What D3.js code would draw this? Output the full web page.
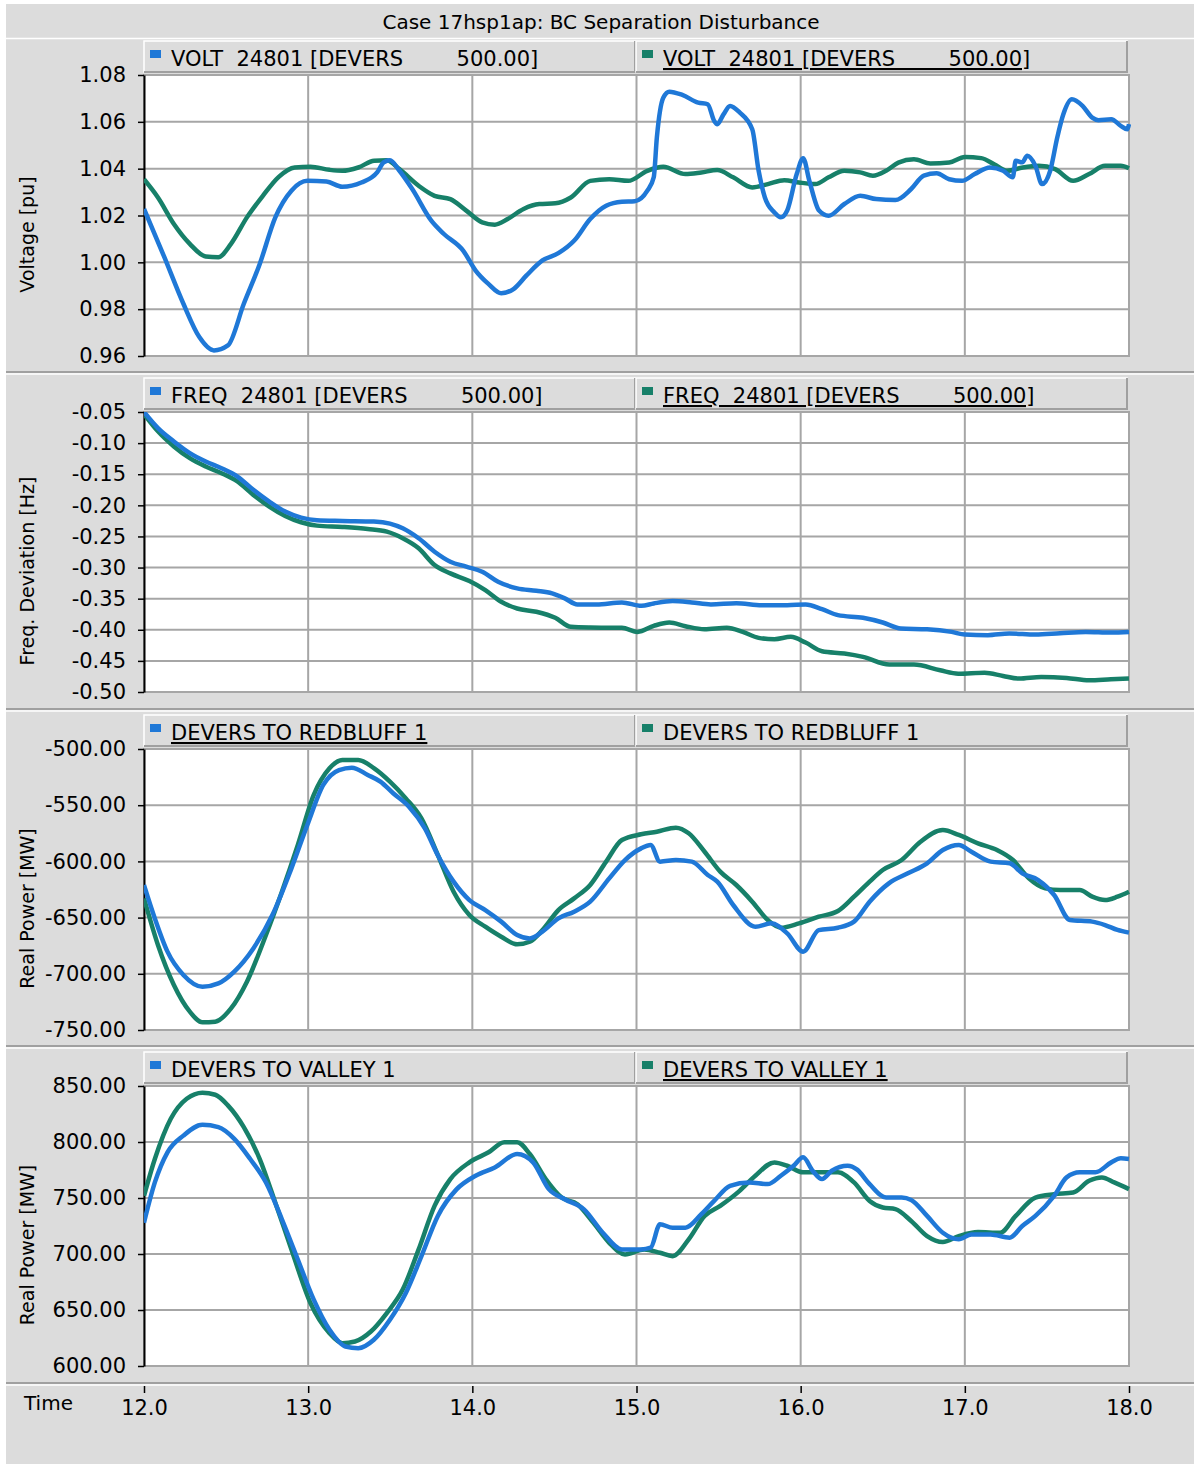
<!DOCTYPE html>
<html>
<head>
<meta charset="utf-8">
<script src="https://cdn.jsdelivr.net/npm/d3@7"></script>
<style>
body { margin: 0; background: #fff; }
text { font-family: "DejaVu Sans", Verdana, sans-serif; white-space: pre; fill: #000; }
</style>
</head>
<body>
<div id="chart"></div>
<script>
// ---- data ----
var timeTicks = [12, 13, 14, 15, 16, 17, 18];
var voltTicks = [0.96, 0.98, 1.00, 1.02, 1.04, 1.06, 1.08];
var freqTicks = [-0.50, -0.45, -0.40, -0.35, -0.30, -0.25, -0.20, -0.15, -0.10, -0.05];
var redbluffTicks = [-750, -700, -650, -600, -550, -500];
var valleyTicks = [600, 650, 700, 750, 800, 850];

var voltBlue = [[12.0,1.0228],[12.124,1.0022],[12.24,0.9823],[12.337,0.9681],[12.426,0.9624],[12.511,0.9645],[12.608,0.9823],[12.705,0.9993],[12.80,1.0192],[12.898,1.0306],[12.995,1.0348],[13.111,1.0345],[13.208,1.0323],[13.324,1.0341],[13.42,1.0384],[13.46,1.0427],[13.498,1.0436],[13.556,1.0391],[13.634,1.0313],[13.75,1.0178],[13.827,1.0121],[13.944,1.005],[14.02,0.9965],[14.098,0.9908],[14.176,0.9868],[14.253,0.9887],[14.33,0.9944],[14.427,1.0008],[14.524,1.0039],[14.621,1.0093],[14.718,1.0185],[14.815,1.0242],[14.911,1.0259],[14.989,1.0261],[15.066,1.0306],[15.105,1.0363],[15.124,1.0533],[15.163,1.0703],[15.20,1.0729],[15.279,1.0715],[15.376,1.0682],[15.434,1.0675],[15.473,1.0604],[15.492,1.059],[15.53,1.0632],[15.57,1.0668],[15.628,1.064],[15.705,1.0568],[15.744,1.0391],[15.782,1.0277],[15.84,1.0213],[15.879,1.0192],[15.918,1.0221],[15.976,1.0377],[16.015,1.0445],[16.053,1.0348],[16.112,1.0221],[16.17,1.0199],[16.266,1.0249],[16.363,1.0284],[16.46,1.027],[16.577,1.0266],[16.673,1.0313],[16.75,1.037],[16.828,1.038],[16.905,1.0355],[16.983,1.0348],[17.06,1.0377],[17.153,1.0405],[17.234,1.0391],[17.292,1.0363],[17.31,1.0434],[17.35,1.0427],[17.38,1.0455],[17.43,1.0412],[17.47,1.0334],[17.52,1.0391],[17.563,1.0533],[17.60,1.0632],[17.652,1.0696],[17.717,1.0668],[17.776,1.0618],[17.814,1.0607],[17.892,1.0611],[17.95,1.0583],[17.99,1.0568],[18.0,1.059]];
var voltGreen = [[12.0,1.0355],[12.085,1.0277],[12.182,1.0164],[12.279,1.0079],[12.376,1.0025],[12.453,1.0022],[12.53,1.0079],[12.627,1.0192],[12.724,1.0284],[12.821,1.0365],[12.918,1.0405],[13.014,1.0408],[13.13,1.0395],[13.208,1.0391],[13.305,1.0405],[13.402,1.0434],[13.479,1.0436],[13.556,1.0398],[13.673,1.0327],[13.77,1.0284],[13.866,1.027],[13.963,1.0221],[14.06,1.0171],[14.137,1.0161],[14.215,1.0185],[14.312,1.0228],[14.408,1.0249],[14.505,1.0252],[14.60,1.0277],[14.718,1.0348],[14.834,1.0355],[14.95,1.0348],[15.066,1.0391],[15.163,1.0408],[15.298,1.0377],[15.395,1.0384],[15.492,1.0394],[15.589,1.0363],[15.705,1.032],[15.80,1.0334],[15.90,1.0351],[15.99,1.0341],[16.09,1.0334],[16.17,1.0363],[16.266,1.0391],[16.363,1.0384],[16.44,1.037],[16.52,1.0391],[16.595,1.0426],[16.69,1.044],[16.79,1.0422],[16.905,1.0426],[17.0,1.045],[17.10,1.0445],[17.178,1.0419],[17.256,1.0391],[17.353,1.0405],[17.45,1.0412],[17.55,1.0398],[17.66,1.0348],[17.757,1.0377],[17.854,1.0412],[17.95,1.0412],[18.0,1.0402]];

var freqBlue = [[12.0,-0.05],[12.085,-0.0758],[12.182,-0.0973],[12.279,-0.116],[12.376,-0.1295],[12.472,-0.1403],[12.569,-0.1537],[12.666,-0.1751],[12.763,-0.1939],[12.86,-0.21],[12.957,-0.2197],[13.053,-0.224],[13.208,-0.2251],[13.40,-0.2261],[13.498,-0.2293],[13.576,-0.2369],[13.673,-0.253],[13.77,-0.2745],[13.866,-0.2906],[13.963,-0.2986],[14.06,-0.3067],[14.157,-0.3228],[14.273,-0.3335],[14.39,-0.3373],[14.486,-0.3416],[14.563,-0.3496],[14.64,-0.3593],[14.757,-0.3593],[14.911,-0.3561],[15.03,-0.3615],[15.105,-0.3577],[15.22,-0.3539],[15.337,-0.3561],[15.453,-0.3593],[15.608,-0.3572],[15.763,-0.3604],[15.918,-0.3604],[16.03,-0.3593],[16.13,-0.3668],[16.227,-0.3765],[16.38,-0.3808],[16.5,-0.3883],[16.61,-0.398],[16.77,-0.3991],[16.92,-0.4034],[17.0,-0.4077],[17.14,-0.4087],[17.27,-0.406],[17.43,-0.4077],[17.58,-0.4055],[17.737,-0.4034],[17.89,-0.4045],[18.0,-0.4034]];
var freqGreen = [[12.0,-0.0532],[12.085,-0.0811],[12.182,-0.1053],[12.279,-0.1241],[12.376,-0.1375],[12.472,-0.1483],[12.569,-0.1617],[12.666,-0.1832],[12.763,-0.202],[12.86,-0.217],[12.957,-0.2272],[13.053,-0.2326],[13.208,-0.2347],[13.363,-0.238],[13.479,-0.2423],[13.576,-0.253],[13.673,-0.2691],[13.77,-0.296],[13.866,-0.3094],[13.982,-0.3217],[14.079,-0.3362],[14.176,-0.355],[14.273,-0.3658],[14.39,-0.3711],[14.505,-0.3808],[14.60,-0.3953],[14.718,-0.3964],[14.911,-0.3969],[15.008,-0.4034],[15.105,-0.3937],[15.20,-0.3883],[15.298,-0.3942],[15.414,-0.3991],[15.55,-0.3969],[15.647,-0.4034],[15.744,-0.413],[15.84,-0.4152],[15.94,-0.4114],[16.03,-0.4205],[16.13,-0.4345],[16.266,-0.4382],[16.38,-0.4436],[16.54,-0.456],[16.69,-0.456],[16.85,-0.4651],[16.96,-0.4705],[17.12,-0.4689],[17.233,-0.4742],[17.33,-0.4785],[17.465,-0.4758],[17.62,-0.4774],[17.757,-0.4812],[17.89,-0.4796],[18.0,-0.4785]];

var redbluffBlue = [[12.0,-621],[12.066,-650.7],[12.143,-680.3],[12.24,-701],[12.356,-711.5],[12.453,-708.5],[12.55,-698],[12.666,-677.4],[12.782,-647.7],[12.898,-606.2],[12.995,-567.6],[13.092,-532],[13.188,-518.7],[13.266,-516.6],[13.363,-523.1],[13.44,-529],[13.518,-539.4],[13.614,-551.3],[13.711,-570.6],[13.789,-594.3],[13.886,-618],[13.982,-634.4],[14.079,-643.3],[14.176,-653.6],[14.273,-665.5],[14.35,-668.5],[14.427,-662.5],[14.524,-650.7],[14.62,-644.7],[14.718,-635.8],[14.834,-615.1],[14.93,-598.8],[15.028,-588.4],[15.086,-585.4],[15.143,-600.2],[15.24,-598.8],[15.337,-600.2],[15.434,-612.1],[15.492,-618],[15.589,-638.8],[15.724,-658.1],[15.82,-655.1],[15.918,-664],[16.015,-680.3],[16.11,-661.1],[16.227,-659],[16.325,-653.6],[16.42,-635.8],[16.537,-619.5],[16.653,-610.6],[16.77,-601.7],[16.866,-589.9],[16.963,-585.4],[17.04,-591.4],[17.157,-600.2],[17.273,-601.7],[17.35,-610.6],[17.447,-616.6],[17.544,-629.9],[17.64,-652.2],[17.776,-653.6],[17.854,-656.6],[17.93,-661],[18.0,-663.4]];
var redbluffGreen = [[12.0,-632.9],[12.085,-674.4],[12.182,-710],[12.279,-733.7],[12.356,-743.2],[12.434,-742.6],[12.53,-730.8],[12.627,-707],[12.743,-665.5],[12.84,-627],[12.937,-585.4],[13.034,-540.9],[13.13,-517.2],[13.208,-509.8],[13.305,-509.8],[13.402,-517.2],[13.498,-529],[13.595,-543.9],[13.69,-561.7],[13.79,-594.3],[13.886,-627],[13.982,-647.7],[14.079,-658.1],[14.176,-667],[14.273,-673.8],[14.35,-671.5],[14.427,-661],[14.524,-643.3],[14.62,-632.9],[14.718,-621],[14.815,-600.2],[14.911,-581],[15.028,-575.9],[15.124,-573.6],[15.24,-570],[15.318,-575],[15.415,-591.4],[15.51,-609.1],[15.608,-621],[15.705,-635.8],[15.80,-652.2],[15.879,-659],[15.99,-655.1],[16.11,-649.2],[16.227,-644.1],[16.325,-631.4],[16.42,-618],[16.5,-607.7],[16.615,-598.8],[16.73,-582.5],[16.866,-572.1],[16.963,-576.5],[17.08,-583.9],[17.196,-589.9],[17.293,-598.8],[17.39,-615.1],[17.49,-624],[17.58,-625.5],[17.70,-625.5],[17.776,-631.4],[17.854,-634.4],[17.93,-631.4],[18.0,-627]];

var valleyBlue = [[12.0,728],[12.066,763.9],[12.143,790.8],[12.24,805.7],[12.356,815.3],[12.453,813.2],[12.55,802.8],[12.647,784.8],[12.743,763.9],[12.84,731],[12.937,695.1],[13.034,659.2],[13.13,632.3],[13.227,617.4],[13.305,615.9],[13.40,623.4],[13.498,641.3],[13.595,665.2],[13.69,698.1],[13.79,734],[13.905,757.9],[14.02,769.9],[14.137,777.3],[14.273,789.3],[14.37,781.8],[14.466,757.9],[14.563,748.9],[14.68,739.9],[14.795,719],[14.911,704.1],[15.028,704.1],[15.086,705.6],[15.143,726.5],[15.22,723.5],[15.298,723.5],[15.395,735.5],[15.473,747.4],[15.57,760.9],[15.686,763.9],[15.80,762.4],[15.879,769.9],[15.957,778.8],[16.015,786.3],[16.073,774.4],[16.13,766.9],[16.19,774.4],[16.286,778.8],[16.344,775.3],[16.42,762.4],[16.52,750.4],[16.615,750.4],[16.673,748.3],[16.77,734],[16.866,719],[16.963,713.1],[17.04,717.5],[17.157,717.5],[17.273,714.6],[17.35,725],[17.43,734],[17.544,751.9],[17.62,768.4],[17.70,772.9],[17.796,772.9],[17.892,781.8],[17.95,785.4],[18.0,784.8]];
var valleyGreen = [[12.0,751.9],[12.066,784.8],[12.163,820.7],[12.26,838.6],[12.356,844],[12.434,842.2],[12.511,832.7],[12.608,813.2],[12.705,784.8],[12.80,745.8],[12.898,704.1],[13.014,656.2],[13.13,629.3],[13.208,620.4],[13.285,621.9],[13.382,630.8],[13.479,647.3],[13.576,668.2],[13.673,704.1],[13.77,743],[13.866,766.9],[13.982,781.8],[14.099,790.8],[14.195,799.8],[14.273,799.8],[14.35,789.3],[14.447,766.9],[14.544,750.4],[14.64,744.5],[14.737,728],[14.834,710],[14.93,699.6],[15.047,704.1],[15.143,701.1],[15.22,698.1],[15.318,713.1],[15.415,734],[15.51,743],[15.628,756.4],[15.724,769.9],[15.84,781.8],[15.918,778.8],[16.015,772.9],[16.11,772.9],[16.227,772.9],[16.325,763.9],[16.42,747.4],[16.5,741.5],[16.577,740],[16.673,729.5],[16.77,716],[16.866,710.7],[16.963,716],[17.08,719.6],[17.215,719],[17.31,734],[17.43,750.4],[17.544,753.4],[17.66,754.9],[17.757,765.4],[17.835,768.4],[17.91,763.9],[18.0,757.9]];

// ---- layout ----
var W = 1194, H = 1464;
var left = 144, right = 1129;
var blue = "#1f78d7", green = "#178069";
var gridColor = "#a6a6a6";

var svg = d3.select("#chart").append("svg")
	.attr("width", W)
	.attr("height", H);

svg.append("rect").attr("width", W).attr("height", H).attr("fill", "#fff");
svg.append("rect").attr("x", 6).attr("y", 4).attr("width", W - 6).attr("height", H - 4).attr("fill", "#dcdcdc");

svg.append("text")
	.attr("x", 601)
	.attr("y", 29)
	.attr("text-anchor", "middle")
	.attr("font-size", 20)
	.text("Case 17hsp1ap: BC Separation Disturbance");

svg.append("line").attr("x1", 6).attr("x2", W).attr("y1", 38.5).attr("y2", 38.5)
	.attr("stroke", "#fff").attr("stroke-width", 1.5);

var x = d3.scaleLinear().domain([12, 18]).range([left, right]);

var fmt2 = function (d) { return d.toFixed(2); };

var panels = [
	{ top: 75, bottom: 356, domain: [0.96, 1.08], ticks: voltTicks, label: "Voltage [pu]",
		legend: ["VOLT  24801 [DEVERS        500.00]", "VOLT  24801 [DEVERS        500.00]"], underline: 1,
		blue: voltBlue, green: voltGreen },
	{ top: 412, bottom: 692, domain: [-0.50, -0.05], ticks: freqTicks, label: "Freq. Deviation [Hz]",
		legend: ["FREQ  24801 [DEVERS        500.00]", "FREQ  24801 [DEVERS        500.00]"], underline: 1,
		blue: freqBlue, green: freqGreen },
	{ top: 749, bottom: 1030, domain: [-750, -500], ticks: redbluffTicks, label: "Real Power [MW]",
		legend: ["DEVERS TO REDBLUFF 1", "DEVERS TO REDBLUFF 1"], underline: 0,
		blue: redbluffBlue, green: redbluffGreen },
	{ top: 1086, bottom: 1366, domain: [600, 850], ticks: valleyTicks, label: "Real Power [MW]",
		legend: ["DEVERS TO VALLEY 1", "DEVERS TO VALLEY 1"], underline: 1,
		blue: valleyBlue, green: valleyGreen }
];

panels.forEach(function (p, i) {
	var g = svg.append("g");
	var y = d3.scaleLinear().domain(p.domain).range([p.bottom, p.top]);

	// separator above panel (not for the first)
	if (i > 0) {
		g.append("line").attr("x1", 6).attr("x2", W).attr("y1", p.top - 40).attr("y2", p.top - 40)
			.attr("stroke", "#a0a0a0").attr("stroke-width", 2);
		g.append("line").attr("x1", 6).attr("x2", W).attr("y1", p.top - 38).attr("y2", p.top - 38)
			.attr("stroke", "#fff").attr("stroke-width", 1.5);
	}

	// legend bar
	var lt = p.top - 34, lh = 31;
	for (var k = 0; k < 2; k++) {
		var lx = left + k * 492;
		g.append("rect").attr("x", lx).attr("y", lt).attr("width", 491).attr("height", lh)
			.attr("fill", "#dcdcdc").attr("stroke", "#fff").attr("stroke-width", 1.5);
		g.append("path")
			.attr("d", "M" + (lx + 491) + "," + lt + "V" + (lt + lh) + "H" + lx)
			.attr("fill", "none").attr("stroke", "#a0a0a0").attr("stroke-width", 2);
		g.append("rect").attr("x", lx + 6).attr("y", lt + 9).attr("width", 11).attr("height", 8)
			.attr("fill", k === 0 ? blue : green);
		g.append("text")
			.attr("x", lx + 27)
			.attr("y", lt + 25)
			.attr("font-size", 21)
			.attr("text-decoration", k === p.underline ? "underline" : null)
			.text(p.legend[k]);
	}

	// plot area
	g.append("rect").attr("x", left).attr("y", p.top).attr("width", right - left).attr("height", p.bottom - p.top)
		.attr("fill", "#fff").attr("stroke", gridColor).attr("stroke-width", 2);

	g.selectAll(".hgrid").data(p.ticks.slice(1, -1)).enter().append("line")
		.attr("x1", left).attr("x2", right)
		.attr("y1", function (d) { return y(d); }).attr("y2", function (d) { return y(d); })
		.attr("stroke", gridColor).attr("stroke-width", 2);

	g.selectAll(".vgrid").data(timeTicks.slice(1, -1)).enter().append("line")
		.attr("x1", function (d) { return x(d); }).attr("x2", function (d) { return x(d); })
		.attr("y1", p.top).attr("y2", p.bottom)
		.attr("stroke", gridColor).attr("stroke-width", 2);

	var ax = g.append("g")
		.attr("transform", "translate(" + left + ",0)")
		.call(d3.axisLeft(y).tickValues(p.ticks).tickFormat(fmt2).tickSize(6).tickSizeOuter(0).tickPadding(12));
	ax.select(".domain").attr("stroke", "#000").attr("stroke-width", 2);
	ax.selectAll(".tick line").attr("stroke", "#000").attr("stroke-width", 1.5);
	ax.selectAll("text").attr("font-size", 21).attr("font-family", "DejaVu Sans").attr("fill", "#000");

	g.append("text")
		.attr("transform", "translate(34," + ((p.top + p.bottom) / 2 + 19) + ") rotate(-90)")
		.attr("text-anchor", "middle")
		.attr("font-size", 19)
		.text(p.label);

	var clipId = "clip" + i;
	g.append("clipPath").attr("id", clipId).append("rect")
		.attr("x", left).attr("y", p.top).attr("width", right - left + 2).attr("height", p.bottom - p.top);

	var line = d3.line()
		.x(function (d) { return x(d[0]); })
		.y(function (d) { return y(d[1]); })
		.curve(d3.curveMonotoneX);

	[[p.green, green], [p.blue, blue]].forEach(function (s) {
		g.append("path")
			.attr("clip-path", "url(#" + clipId + ")")
			.attr("d", line(s[0]))
			.attr("fill", "none")
			.attr("stroke", s[1])
			.attr("stroke-width", 4.5)
			.attr("stroke-linejoin", "round");
	});
});

// time axis at the bottom
svg.append("line").attr("x1", 6).attr("x2", W).attr("y1", 1383).attr("y2", 1383)
	.attr("stroke", "#a0a0a0").attr("stroke-width", 2);
svg.append("line").attr("x1", 6).attr("x2", W).attr("y1", 1385).attr("y2", 1385)
	.attr("stroke", "#fff").attr("stroke-width", 1.5);

var tx = svg.append("g")
	.attr("transform", "translate(0,1386)")
	.call(d3.axisBottom(x).tickValues(timeTicks).tickFormat(function (d) { return d.toFixed(1); }).tickSize(7).tickPadding(7));
tx.select(".domain").remove();
tx.selectAll(".tick line").attr("stroke", "#000").attr("stroke-width", 1.5);
tx.selectAll("text").attr("font-size", 21).attr("font-family", "DejaVu Sans").attr("fill", "#000");

svg.append("text")
	.attr("x", 24)
	.attr("y", 1410)
	.attr("font-size", 20)
	.text("Time");
</script>
</body>
</html>
